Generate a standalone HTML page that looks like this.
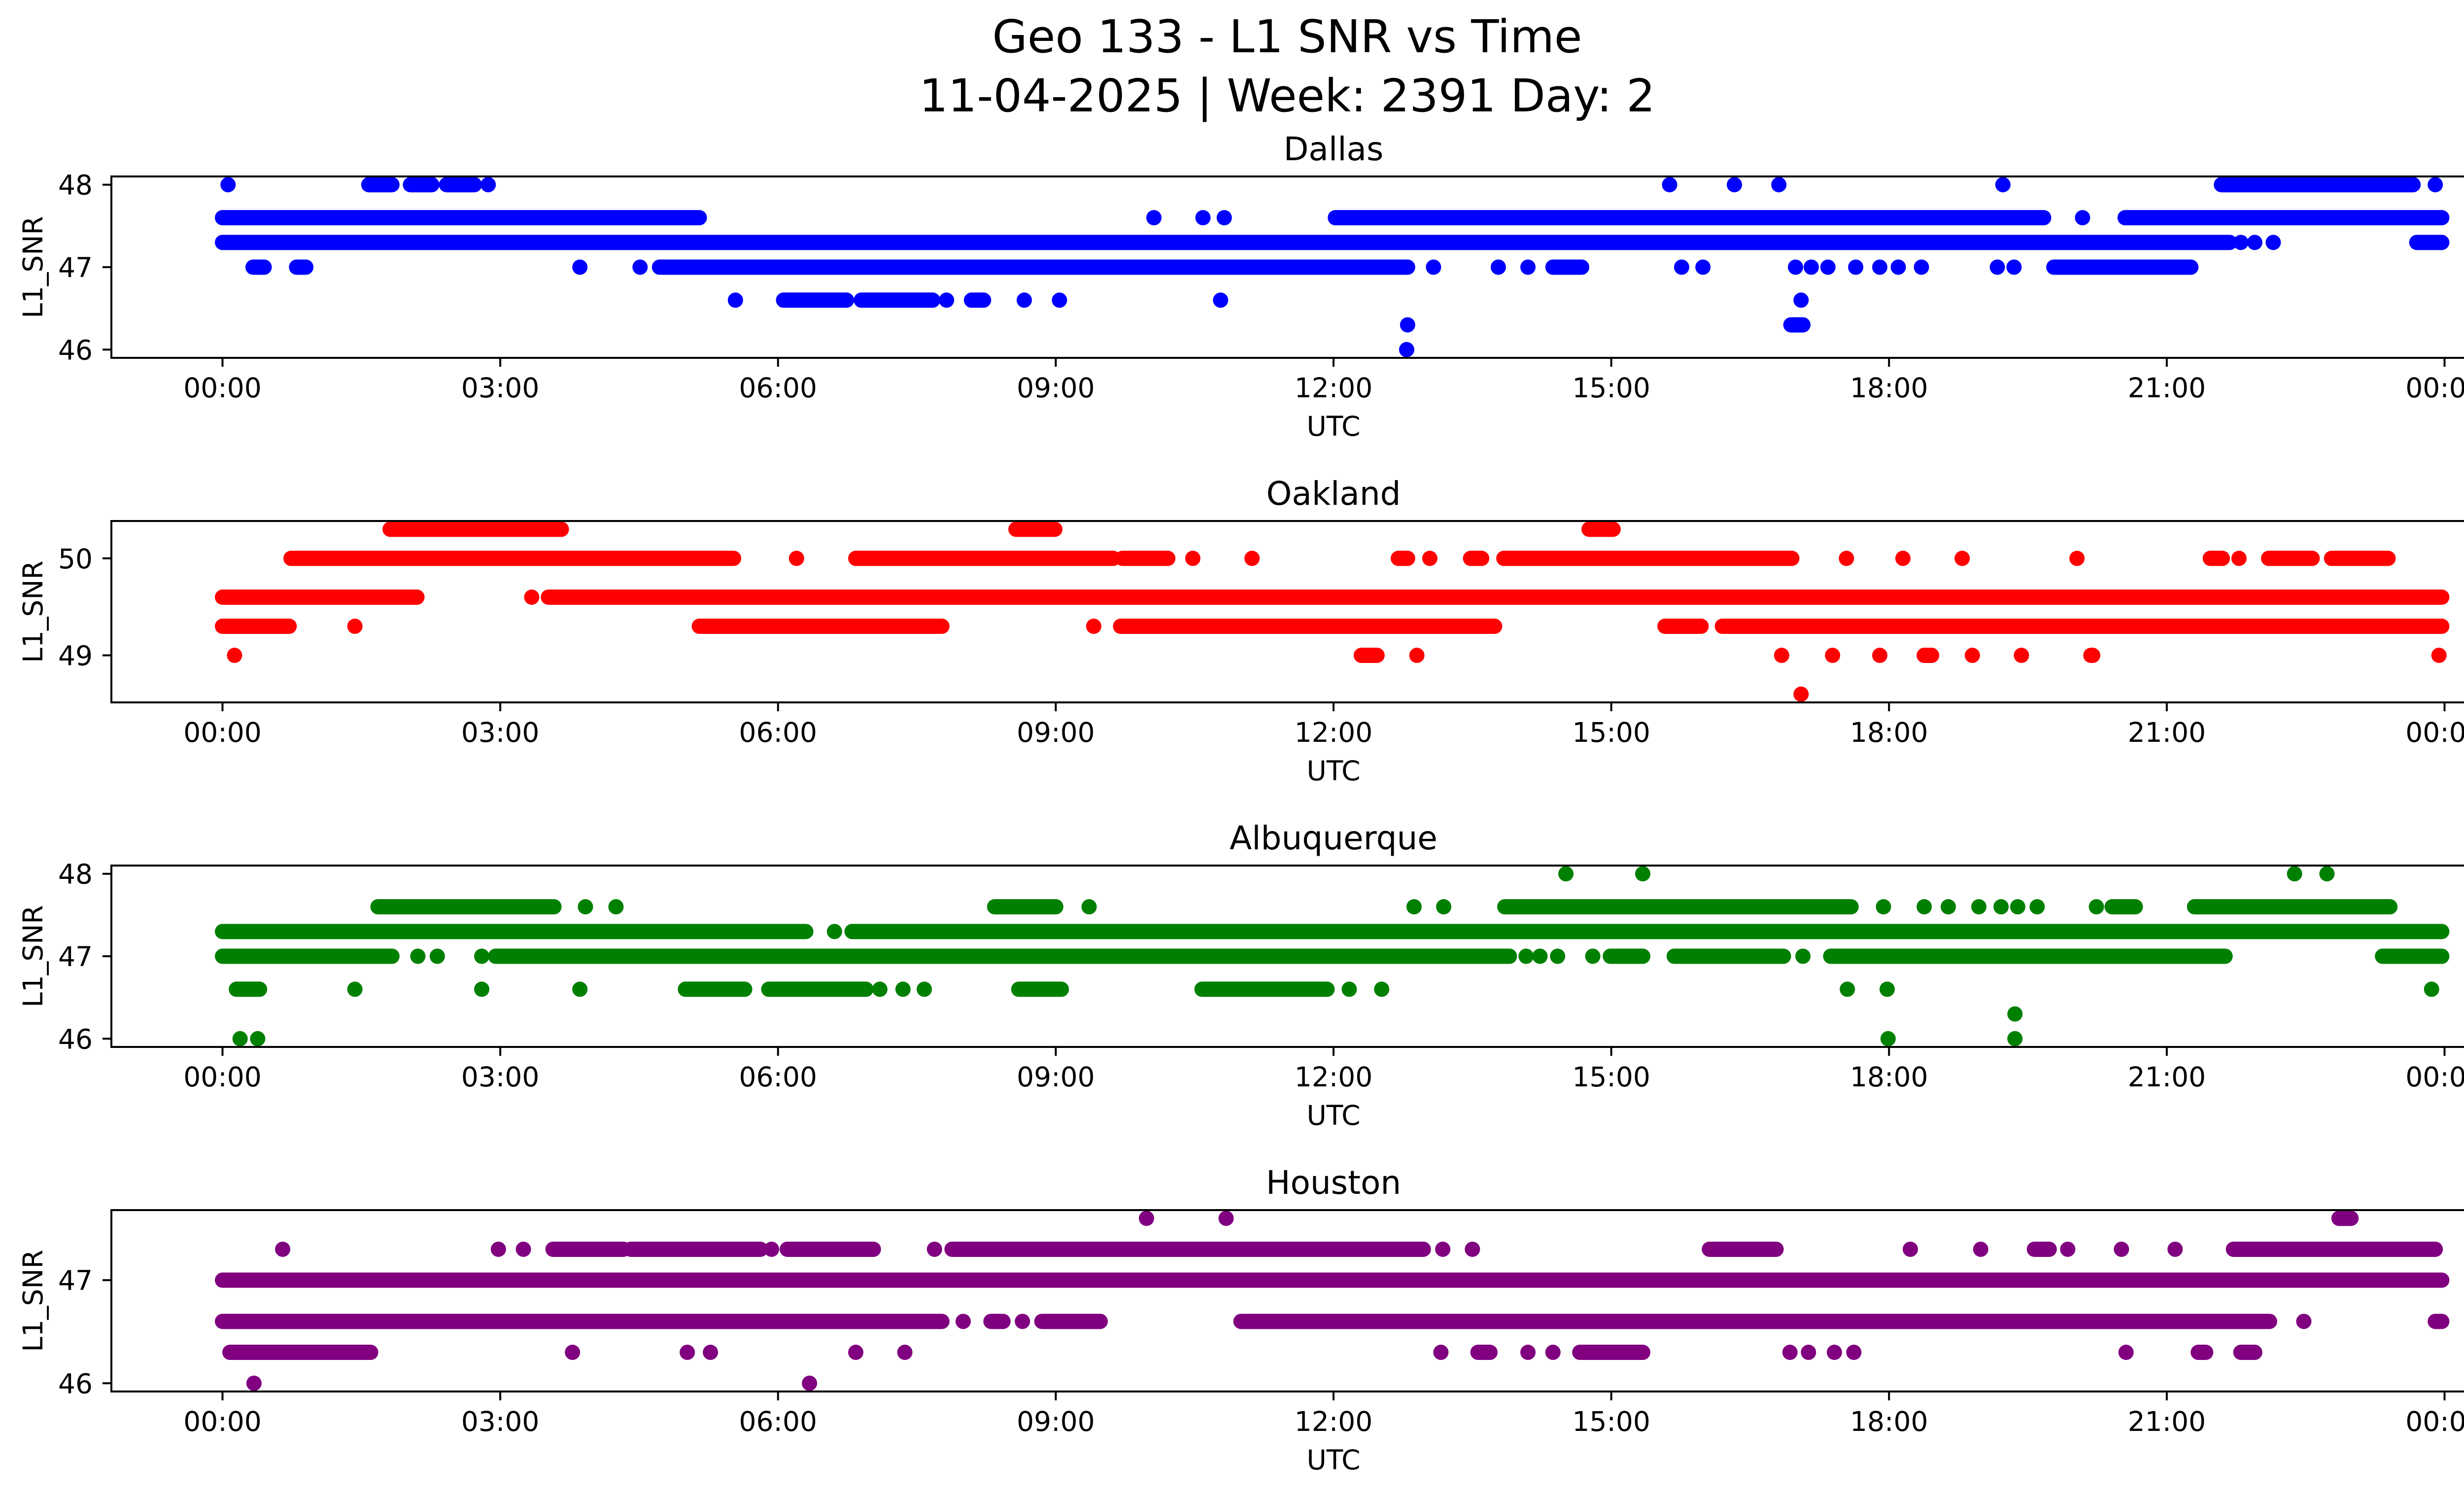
<!DOCTYPE html>
<html><head><meta charset="utf-8"><title>Geo 133 - L1 SNR vs Time</title>
<style>html,body{margin:0;padding:0;background:#fff}svg{display:block}text{font-family:"DejaVu Sans","Liberation Sans",sans-serif;fill:#000}</style>
</head><body>
<svg id="chart" xmlns="http://www.w3.org/2000/svg" width="5225" height="3033" viewBox="0 0 5225 3033">
<rect width="5225" height="3033" fill="#fff"/>
<text x="2612" y="106" font-size="92" text-anchor="middle">Geo 133 - L1 SNR vs Time</text>
<text x="2612" y="226" font-size="92" text-anchor="middle">11-04-2025 | Week: 2391 Day: 2</text>
</svg>
<script>
// Categories / stations
const stations = ["Dallas","Oakland","Albuquerque","Houston"];
const colors = ["#0000ff","#ff0000","#008000","#800080"];
const yTicks = [[46,47,48],[49,50],[46,47,48],[46,47]];
const yRanges = [[45.9,48.1],[48.515,50.385],[45.9,48.1],[45.92,47.68]];
const xTickHours = [0,3,6,9,12,15,18,21,24];
const xTickLabels = ["00:00","03:00","06:00","09:00","12:00","15:00","18:00","21:00","00:00"];
// Series: per station, list of [SNR level, [[startHour,endHour],...]] runs of observations
const dallas = [
 [48,[[0.06,0.06],[1.58,1.83],[2.03,2.26],[2.42,2.72],[2.87,2.87],[15.63,15.63],[16.33,16.33],[16.81,16.81],[19.23,19.23],[21.59,23.66],[23.9,23.9]]],
 [47.6,[[0,5.15],[10.06,10.06],[10.59,10.59],[10.82,10.82],[12.02,19.67],[20.09,20.09],[20.55,23.97]]],
 [47.3,[[0,21.68],[21.8,21.8],[21.95,21.95],[22.15,22.15],[23.7,23.97]]],
 [47,[[0.33,0.45],[0.8,0.9],[3.86,3.86],[4.51,4.51],[4.72,12.8],[13.08,13.08],[13.78,13.78],[14.1,14.1],[14.37,14.68],[15.76,15.76],[15.99,15.99],[16.99,16.99],[17.16,17.16],[17.34,17.34],[17.64,17.64],[17.9,17.9],[18.1,18.1],[18.35,18.35],[19.17,19.17],[19.35,19.35],[19.78,21.26]]],
 [46.6,[[5.54,5.54],[6.06,6.74],[6.9,7.67],[7.82,7.82],[8.09,8.22],[8.66,8.66],[9.04,9.04],[10.78,10.78],[17.05,17.05]]],
 [46.3,[[12.8,12.8],[16.94,17.07]]],
 [46,[[12.79,12.79]]]
];
const oakland = [
 [50.3,[[1.81,3.66],[8.57,8.99],[14.76,15.02]]],
 [50,[[0.74,5.52],[6.2,6.2],[6.84,9.62],[9.72,10.21],[10.48,10.48],[11.12,11.12],[12.7,12.8],[13.04,13.04],[13.48,13.6],[13.84,16.95],[17.54,17.54],[18.15,18.15],[18.79,18.79],[20.03,20.03],[21.47,21.6],[21.78,21.78],[22.1,22.57],[22.78,23.39]]],
 [49.6,[[0,2.1],[3.34,3.34],[3.52,23.97]]],
 [49.3,[[0,0.72],[1.43,1.43],[5.15,7.77],[9.41,9.41],[9.7,13.74],[15.58,15.97],[16.2,23.97]]],
 [49,[[0.13,0.13],[12.3,12.47],[12.9,12.9],[16.84,16.84],[17.39,17.39],[17.9,17.9],[18.38,18.46],[18.9,18.9],[19.43,19.43],[20.18,20.2],[23.94,23.94]]],
 [48.6,[[17.05,17.05]]]
];
const albuquerque = [
 [48,[[14.51,14.51],[15.34,15.34],[22.38,22.38],[22.73,22.73]]],
 [47.6,[[1.68,3.58],[3.92,3.92],[4.25,4.25],[8.34,9.0],[9.36,9.36],[12.87,12.87],[13.19,13.19],[13.85,17.59],[17.94,17.94],[18.38,18.38],[18.64,18.64],[18.97,18.97],[19.21,19.21],[19.39,19.39],[19.6,19.6],[20.24,20.24],[20.41,20.66],[21.3,23.41]]],
 [47.3,[[0,6.3],[6.61,6.61],[6.8,23.97]]],
 [47,[[0,1.83],[2.11,2.11],[2.32,2.32],[2.8,2.8],[2.95,13.9],[14.08,14.08],[14.23,14.23],[14.42,14.42],[14.8,14.8],[14.99,15.34],[15.68,16.86],[17.07,17.07],[17.37,21.63],[23.33,23.97]]],
 [46.6,[[0.15,0.4],[1.43,1.43],[2.8,2.8],[3.86,3.86],[5.0,5.64],[5.9,6.95],[7.1,7.1],[7.35,7.35],[7.58,7.58],[8.6,9.06],[10.58,11.93],[12.17,12.17],[12.52,12.52],[17.55,17.55],[17.98,17.98],[23.86,23.86]]],
 [46.3,[[19.36,19.36]]],
 [46,[[0.19,0.19],[0.38,0.38],[17.99,17.99],[19.36,19.36]]]
];
const houston = [
 [47.6,[[9.98,9.98],[10.84,10.84],[22.86,22.99]]],
 [47.3,[[0.65,0.65],[2.98,2.98],[3.25,3.25],[3.57,4.33],[4.41,5.81],[5.93,5.93],[6.1,7.03],[7.69,7.69],[7.88,12.97],[13.18,13.18],[13.5,13.5],[16.06,16.78],[18.23,18.23],[18.99,18.99],[19.57,19.73],[19.93,19.93],[20.51,20.51],[21.09,21.09],[21.72,23.9]]],
 [47,[[0,23.97]]],
 [46.6,[[0,7.77],[8.0,8.0],[8.3,8.43],[8.64,8.64],[8.85,9.48],[11.0,22.11],[22.48,22.48],[23.9,23.97]]],
 [46.3,[[0.08,1.6],[3.78,3.78],[5.02,5.02],[5.27,5.27],[6.84,6.84],[7.37,7.37],[13.16,13.16],[13.56,13.69],[14.1,14.1],[14.37,14.37],[14.66,15.34],[16.93,16.93],[17.13,17.13],[17.41,17.41],[17.62,17.62],[20.56,20.56],[21.34,21.42],[21.8,21.95]]],
 [46,[[0.34,0.34],[6.34,6.34]]]
];
const seriesData = [dallas, oakland, albuquerque, houston];

const NS = "http://www.w3.org/2000/svg";
const svg = document.getElementById("chart");
const AX_L = 226, AX_R = 5186, PH = 368;
const TOPS = [358, 1057, 1756, 2455];
const X0 = 451.5, X24 = 4960.5;
function mk(tag, attrs, parent) {
  const e = document.createElementNS(NS, tag);
  for (const k in attrs) e.setAttribute(k, attrs[k]);
  (parent || svg).appendChild(e);
  return e;
}
function xScale(h) { return X0 + (X24 - X0) * h / 24; }

stations.forEach((name, i) => {
  const top = TOPS[i], bot = top + PH;
  const [y0, y1] = yRanges[i];
  const yScale = v => bot - (v - y0) / (y1 - y0) * PH;
  const g = mk("g", {});
  
  
  // points
  const pg = mk("g", {fill: "none", stroke: colors[i], "stroke-width": 31, "stroke-linecap": "round"}, g);
  
  
  seriesData[i].forEach(([lvl, runs]) => {
    runs.forEach(([a, b]) => {
      const y = yScale(lvl);
      const ln = mk("line", {x1: xScale(a), y1: y, x2: xScale(b) + 0.01, y2: y}, pg);
      
      
    });
  });
  // frame
  const fr = mk("rect", {x: AX_L, y: top, width: AX_R - AX_L, height: PH, fill: "none", stroke: "#000", "stroke-width": 4}, g);
  
  
  // y ticks
  yTicks[i].forEach(v => {
    const y = yScale(v);
    const t = mk("line", {x1: AX_L - 18, y1: y, x2: AX_L, y2: y, stroke: "#000", "stroke-width": 4}, g);
    
    
    const tx = mk("text", {x: AX_L - 38, y: y + 20, "font-size": 55, "text-anchor": "end"}, g);
    tx.textContent = String(v);
    
    
  });
  // x ticks
  xTickHours.forEach((h, k) => {
    const x = xScale(h);
    const t = mk("line", {x1: x, y1: bot, x2: x, y2: bot + 18, stroke: "#000", "stroke-width": 4}, g);
    
    
    const tx = mk("text", {x: x, y: bot + 80, "font-size": 55, "text-anchor": "middle"}, g);
    tx.textContent = xTickLabels[k];
    
    
  });
  const xl = mk("text", {x: (AX_L + AX_R) / 2, y: bot + 158, "font-size": 55, "text-anchor": "middle"}, g);
  xl.textContent = "UTC";
  
  
  const yl = mk("text", {x: 0, y: 0, "font-size": 55, "text-anchor": "middle", transform: "translate(86," + (top + PH / 2) + ") rotate(-90)"}, g);
  yl.textContent = "L1_SNR";
  
  
  const st = mk("text", {x: (AX_L + AX_R) / 2, y: top - 33, "font-size": 66, "text-anchor": "middle"}, g);
  st.textContent = name;
  
  
});
</script>
</body></html>
